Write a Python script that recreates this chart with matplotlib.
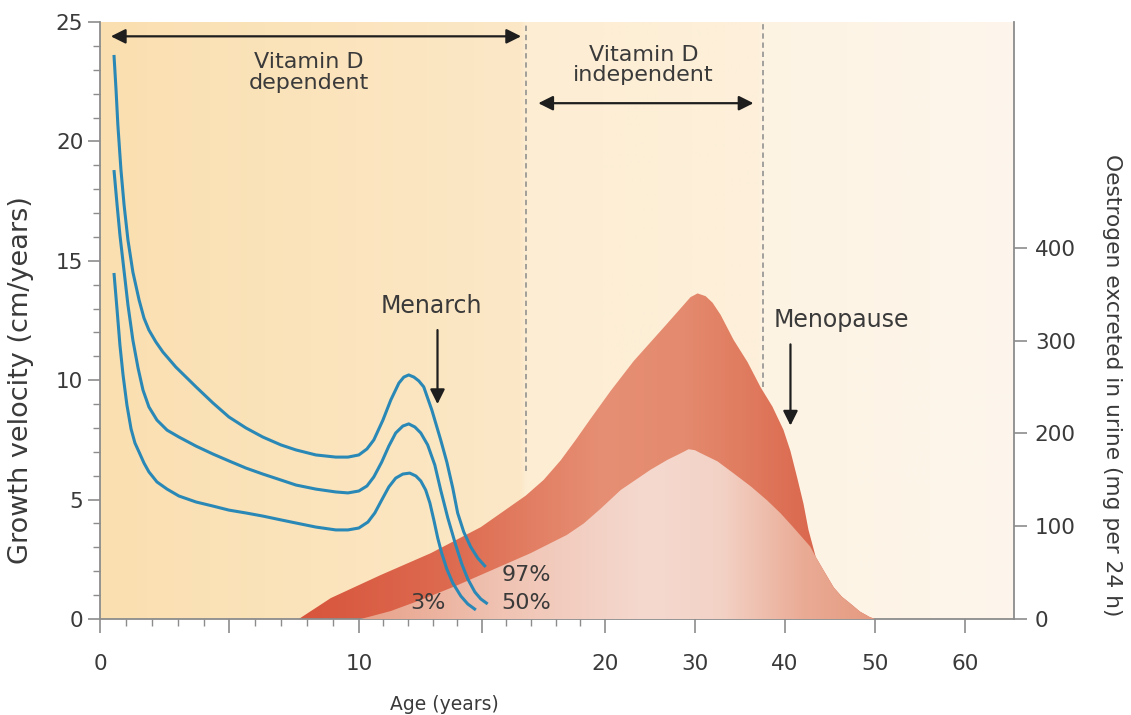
import numpy as np
import matplotlib

matplotlib.use("Agg")
import matplotlib.pyplot as plt  # noqa: E402
from matplotlib.colors import to_rgb  # noqa: E402
from matplotlib.ticker import FixedLocator, FixedFormatter  # noqa: E402

# Age axis is broken: 0-20 y stretched, 20-60 y compressed
AGE_KNOTS = [0, 10, 20, 60, 70]
AGE_POS = [0, 259, 505, 866, 956]

# growth velocity percentiles (cm/year)
g97_age = [0.54, 0.62, 0.69, 0.81, 0.93, 1.08, 1.27, 1.51, 1.70, 1.89, 2.16, 2.43, 2.93,
           3.71, 4.36, 4.98, 5.64, 6.29, 6.99, 7.57, 8.34, 9.11, 9.58, 10.0, 10.33, 10.61,
           10.98, 11.30, 11.63, 11.83, 12.03, 12.24, 12.44, 12.64, 12.97, 13.33, 13.58,
           13.82, 14.02, 14.27, 14.55, 14.84, 15.16]
g97 = [23.62, 22.15, 20.69, 18.80, 17.34, 15.87, 14.53, 13.36, 12.60, 12.10, 11.60, 11.18,
       10.55, 9.72, 9.05, 8.46, 8.00, 7.62, 7.29, 7.08, 6.87, 6.78, 6.78, 6.87, 7.12, 7.50,
       8.33, 9.17, 9.88, 10.13, 10.22, 10.13, 9.97, 9.72, 8.75, 7.50, 6.57,
       5.49, 4.44, 3.64, 3.02, 2.55, 2.18]

g50_age = [0.54, 0.66, 0.77, 0.89, 1.08, 1.27, 1.47, 1.66, 1.89, 2.20, 2.59, 3.05, 3.71,
           4.36, 4.98, 5.64, 6.29, 6.99, 7.57, 8.34, 9.11, 9.58, 10.0, 10.33, 10.61, 10.93,
           11.22, 11.50, 11.79, 12.03, 12.28, 12.52, 12.80, 13.09, 13.33, 13.62, 13.94,
           14.19, 14.43, 14.72, 14.96, 15.24]
g50 = [18.80, 17.34, 16.08, 14.95, 13.15, 11.68, 10.51, 9.59, 8.88, 8.33, 7.91, 7.62, 7.24,
       6.91, 6.62, 6.32, 6.07, 5.82, 5.61, 5.44, 5.32, 5.28, 5.36, 5.57, 5.95, 6.57,
       7.24, 7.79, 8.08, 8.17, 8.04, 7.79, 7.29, 6.45, 5.40, 4.23, 3.10,
       2.30, 1.68, 1.13, 0.84, 0.63]

g3_age = [0.54, 0.66, 0.77, 0.89, 1.04, 1.20, 1.35, 1.51, 1.70, 1.89, 2.20, 2.59, 3.05,
          3.71, 4.36, 4.98, 5.64, 6.29, 6.99, 7.57, 8.34, 9.11, 9.58, 10.0, 10.37, 10.65,
          10.93, 11.22, 11.50, 11.79, 12.07, 12.32, 12.52, 12.72, 12.89, 13.05, 13.21,
          13.37, 13.58, 13.82, 14.15, 14.43, 14.76]
g3 = [14.49, 12.94, 11.47, 10.22, 8.96, 7.96, 7.37, 6.99, 6.53, 6.16, 5.74, 5.44, 5.15,
      4.90, 4.73, 4.56, 4.44, 4.31, 4.15, 4.02, 3.85, 3.73, 3.73, 3.81, 4.06, 4.44,
      4.98, 5.53, 5.90, 6.07, 6.11, 5.99, 5.78, 5.40, 4.86, 4.15, 3.39,
      2.76, 2.09, 1.51, 0.96, 0.63, 0.38]

# oestrogen excreted in urine (mg per 24 h): upper and lower envelopes
oe_hi_age = [7.68, 8.92, 10.89, 12.93, 14.96, 16.79, 17.52, 18.21, 18.82, 19.43, 20.67,
             23.21, 26.98, 29.52, 30.3, 31.2, 31.96, 32.85, 34.29, 35.84, 37.28, 38.6,
             39.82, 40.6, 41.38, 42.05, 42.6, 43.4, 44.3, 45.4, 46.3, 47.2, 48.3, 49.4, 50.0]
oe_hi = [0, 22.6, 47.4, 71, 99, 133, 150, 171, 193, 216, 246,
         278, 319, 347, 351, 348, 341, 328, 301, 277, 250, 229,
         204, 181, 151, 124, 96, 67, 52, 34, 24, 17, 8, 2, 0]

oe_lo_age = [10.08, 11.3, 12.52, 13.94, 15.24, 16.99, 18.46, 19.15, 19.84, 20.67, 21.77,
             25.1, 26.98, 28.3, 29.3, 30.0, 30.6, 32.5, 34.3, 36.2, 38.0, 39.5, 40.9, 42.8,
             43.4, 44.3, 45.4, 46.3, 47.2, 48.3, 49.4, 50.0]
oe_lo = [0, 8.6, 20.5, 35.6, 50.7, 71, 90.6, 103, 119, 129, 139,
         161, 171.7, 178, 183, 182, 179, 170, 157, 143, 128, 114, 99, 78,
         67, 52, 34, 24, 17, 8, 2, 0]

x_major = [0, 5, 10, 15, 20, 30, 40, 50, 60]
x_major_labels = ["0", "", "10", "", "20", "30", "40", "50", "60"]
x_minor = [1, 2, 3, 4, 6, 7, 8, 9, 11, 12, 13, 14, 16, 17, 18, 19]

TEXT = "#3a3a3a"
SPINE = "#8c8c8c"
BLUE = "#2a88b6"


def age_fwd(a):
    return np.interp(a, AGE_KNOTS, AGE_POS)


def age_inv(p):
    return np.interp(p, AGE_POS, AGE_KNOTS)


def hgrad(stops, n=800):
    pos = [s[0] for s in stops]
    cols = np.array([to_rgb(s[1]) for s in stops])
    t = np.linspace(0, 1, n)
    row = np.stack([np.interp(t, pos, cols[:, i]) for i in range(3)], axis=-1)
    return row[None, :, :]


fig = plt.figure(figsize=(11.31, 7.15), dpi=100)
rect = [100 / 1131, 96 / 715, 914 / 1131, 597 / 715]

# warm background bands behind everything
bg = fig.add_axes(rect, zorder=0)
bg.imshow(hgrad([(0.0, "#fadfb0"), (0.46, "#fce8c7"), (0.466, "#fdedd3"),
                 (0.72, "#fdf0da"), (0.726, "#fdf3e3"), (1.0, "#fdf6ec")]),
          extent=(0, 1, 0, 1), aspect="auto", interpolation="bilinear")
bg.set_axis_off()

ax_e = fig.add_axes(rect, zorder=1)
ax_e.patch.set_visible(False)
ax_e.set_xscale("function", functions=(age_fwd, age_inv))
ax_g = ax_e.twinx()
ax_g.set_zorder(2)

# oestrogen envelopes, filled with shaded gradients
hi_poly = ax_e.fill(oe_hi_age, oe_hi, fc="none", ec="none")[0]
lo_poly = ax_e.fill(oe_lo_age, oe_lo, fc="none", ec="none")[0]
im_hi = ax_e.imshow(hgrad([(0.2, "#d6523a"), (0.38, "#dd6a4f"), (0.55, "#e68f74"),
                           (0.64, "#e48a6e"), (0.72, "#df785c"), (0.8, "#d8624a")]),
                    extent=(0, 1, 0, 1), transform=ax_e.transAxes, aspect="auto",
                    interpolation="bilinear", zorder=2)
im_hi.set_clip_path(hi_poly)
im_lo = ax_e.imshow(hgrad([(0.28, "#e7a088"), (0.44, "#f0c3b3"), (0.6, "#f5d9cf"),
                           (0.68, "#f3d2c6"), (0.77, "#eaab95"), (0.86, "#e4977d")]),
                    extent=(0, 1, 0, 1), transform=ax_e.transAxes, aspect="auto",
                    interpolation="bilinear", zorder=3)
im_lo.set_clip_path(lo_poly)
ax_e.set_xlim(0, 65.4)
ax_e.set_ylim(0, 643.6)
ax_g.set_ylim(0, 25)

# dashed dividers between the vitamin D phases
ax_e.vlines([16.8, 37.5], [160, 250], 643.6, colors="#8a8a8a", lw=1.1,
            linestyles=(0, (3.5, 2.5)), zorder=1)

# growth velocity curves
for a, v in [(g97_age, g97), (g50_age, g50), (g3_age, g3)]:
    ax_g.plot(a, v, color=BLUE, lw=2.2, solid_capstyle="butt", solid_joinstyle="round")

arrow_kw = dict(color="#1e1e1e", lw=1.6, shrinkA=0, shrinkB=0, mutation_scale=22)
ax_g.annotate("", xy=(0.42, 24.4), xytext=(16.6, 24.4),
              arrowprops=dict(arrowstyle="<|-|>", **arrow_kw))
ax_g.annotate("", xy=(17.3, 21.6), xytext=(36.5, 21.6),
              arrowprops=dict(arrowstyle="<|-|>", **arrow_kw))
ax_g.annotate("", xy=(13.2, 9.0), xytext=(13.2, 12.1),
              arrowprops=dict(arrowstyle="-|>", **arrow_kw))
ax_g.annotate("", xy=(40.6, 8.1), xytext=(40.6, 11.5),
              arrowprops=dict(arrowstyle="-|>", **arrow_kw))

note = dict(color=TEXT, fontsize=16, ha="center", va="center", linespacing=1.05)
ax_g.text(8.07, 22.9, "Vitamin D\ndependent", **note)
ax_g.text(24.3, 23.2, "Vitamin D\nindependent", **note)
ax_g.text(12.97, 13.1, "Menarch", **dict(note, fontsize=17))
ax_g.text(46.2, 12.5, "Menopause", **dict(note, fontsize=17))
ax_g.text(16.8, 1.84, "97%", **note)
ax_g.text(16.8, 0.67, "50%", **note)
ax_g.text(12.8, 0.67, "3%", **note)

# axes styling
for s in list(ax_e.spines.values()) + list(ax_g.spines.values()):
    s.set_visible(False)
for s in (ax_e.spines["bottom"], ax_e.spines["right"], ax_g.spines["left"]):
    s.set_visible(True)
    s.set_color(SPINE)
    s.set_linewidth(1.3)

ax_e.xaxis.set_major_locator(FixedLocator(x_major))
ax_e.xaxis.set_major_formatter(FixedFormatter(x_major_labels))
ax_e.xaxis.set_minor_locator(FixedLocator(x_minor))
ax_e.tick_params(axis="x", which="major", length=10, width=1.2, color=SPINE,
                 labelsize=15.5, labelcolor=TEXT, pad=15)
ax_e.tick_params(axis="x", which="minor", length=5, width=1.0, color=SPINE)

ax_e.yaxis.tick_right()
ax_e.yaxis.set_label_position("right")
ax_e.set_yticks([0, 100, 200, 300, 400])
ax_e.tick_params(axis="y", which="major", length=9, width=1.2, color=SPINE,
                 labelsize=15.5, labelcolor=TEXT, pad=6)

ax_g.yaxis.tick_left()
ax_g.yaxis.set_label_position("left")
ax_g.set_yticks([0, 5, 10, 15, 20, 25])
ax_g.set_yticks(range(26), minor=True)
ax_g.tick_params(axis="y", which="major", length=9, width=1.2, color=SPINE,
                 labelsize=15.5, labelcolor=TEXT, pad=3)
ax_g.tick_params(axis="y", which="minor", length=5, width=1.0, color=SPINE)

ax_e.set_xlabel("Age (years)", fontsize=13.5, color=TEXT)
ax_e.xaxis.set_label_coords(0.377, -0.128)
ax_g.set_ylabel("Growth velocity (cm/years)", fontsize=19.5, color=TEXT)
ax_g.yaxis.set_label_coords(-0.072, 0.4)
ax_e.set_ylabel("Oestrogen excreted in urine (mg per 24 h)", fontsize=15.7, color=TEXT,
                rotation=270)
ax_e.yaxis.set_label_coords(1.118, 0.392)

fig.savefig("out.png", dpi=100)
